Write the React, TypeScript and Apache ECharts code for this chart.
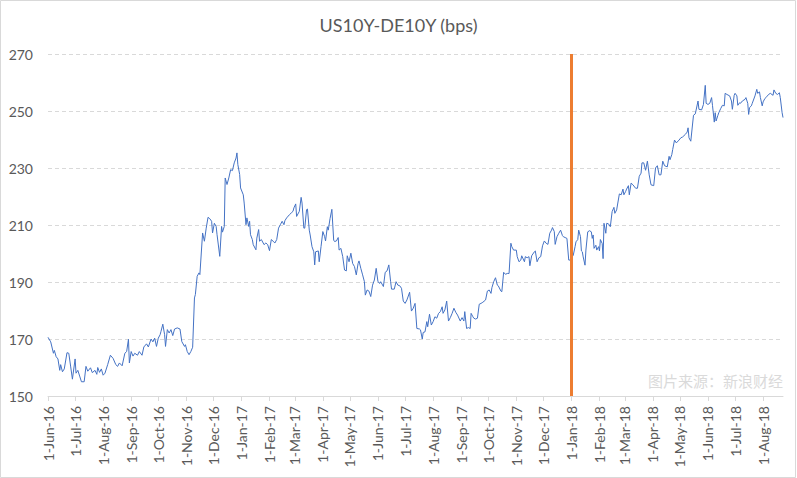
import React, { useEffect, useRef } from "react";
import * as echarts from "echarts";

const TITLE = "US10Y-DE10Y (bps)";
const SOURCE_NOTE = "图片来源：新浪财经";
const AXIS_START = "2016-06-01";
const AXIS_END = "2018-08-23";
const EVENT_DATE = "2018-01-01";
const Y_MIN = 150;
const Y_MAX = 270;
const Y_STEP = 20;
const MONTHS = ["Jan", "Feb", "Mar", "Apr", "May", "Jun", "Jul", "Aug", "Sep", "Oct", "Nov", "Dec"];

// US10Y - DE10Y spread (bps)
const spread: [string, number][] = [
  ["2016-06-01", 170.6], ["2016-06-04", 169.0], ["2016-06-07", 165.0], ["2016-06-08", 166.0],
  ["2016-06-10", 163.8], ["2016-06-12", 163.0], ["2016-06-14", 159.0], ["2016-06-15", 161.0],
  ["2016-06-17", 158.5], ["2016-06-19", 159.5], ["2016-06-22", 165.2], ["2016-06-24", 165.0],
  ["2016-06-26", 160.5], ["2016-06-28", 155.9], ["2016-07-01", 163.0], ["2016-07-02", 158.0],
  ["2016-07-04", 159.0], ["2016-07-06", 157.0], ["2016-07-08", 155.0], ["2016-07-11", 155.0],
  ["2016-07-13", 160.4], ["2016-07-15", 158.7], ["2016-07-18", 159.9], ["2016-07-20", 158.2],
  ["2016-07-23", 159.0], ["2016-07-25", 157.6], ["2016-07-26", 160.0], ["2016-07-28", 158.3],
  ["2016-07-30", 159.5], ["2016-08-01", 157.3], ["2016-08-03", 158.0], ["2016-08-06", 161.0],
  ["2016-08-09", 164.3], ["2016-08-12", 163.2], ["2016-08-15", 161.0], ["2016-08-17", 160.4],
  ["2016-08-19", 161.6], ["2016-08-22", 160.6], ["2016-08-25", 165.0], ["2016-08-27", 165.6],
  ["2016-08-29", 169.9], ["2016-08-30", 161.6], ["2016-09-01", 165.6], ["2016-09-03", 164.0],
  ["2016-09-05", 165.0], ["2016-09-08", 164.3], ["2016-09-10", 165.6], ["2016-09-13", 164.3],
  ["2016-09-15", 167.2], ["2016-09-18", 168.3], ["2016-09-20", 167.2], ["2016-09-23", 170.0],
  ["2016-09-25", 169.0], ["2016-09-27", 170.3], ["2016-09-29", 167.4], ["2016-10-01", 170.3],
  ["2016-10-03", 171.5], ["2016-10-04", 172.7], ["2016-10-06", 175.2], ["2016-10-08", 171.5],
  ["2016-10-09", 167.4], ["2016-10-11", 173.3], ["2016-10-13", 172.1], ["2016-10-15", 173.3],
  ["2016-10-17", 171.2], ["2016-10-19", 173.5], ["2016-10-22", 173.9], ["2016-10-25", 173.5],
  ["2016-10-27", 169.1], ["2016-10-30", 167.4], ["2016-10-31", 168.0], ["2016-11-02", 165.6],
  ["2016-11-04", 164.5], ["2016-11-06", 165.6], ["2016-11-08", 167.1], ["2016-11-10", 184.4],
  ["2016-11-11", 185.6], ["2016-11-13", 192.0], ["2016-11-15", 193.2], ["2016-11-16", 192.6],
  ["2016-11-19", 207.2], ["2016-11-21", 204.3], ["2016-11-23", 208.9], ["2016-11-25", 212.7],
  ["2016-11-27", 212.2], ["2016-11-29", 211.3], ["2016-11-30", 207.2], ["2016-12-02", 210.6],
  ["2016-12-04", 209.5], ["2016-12-05", 206.6], ["2016-12-08", 199.0], ["2016-12-10", 209.5],
  ["2016-12-11", 207.5], ["2016-12-13", 209.5], ["2016-12-14", 226.5], ["2016-12-16", 224.2],
  ["2016-12-18", 226.5], ["2016-12-20", 229.4], ["2016-12-22", 229.1], ["2016-12-24", 231.8],
  ["2016-12-26", 233.5], ["2016-12-27", 235.3], ["2016-12-28", 231.2], ["2016-12-30", 227.7],
  ["2016-12-31", 223.0], ["2017-01-03", 220.6], ["2017-01-04", 217.7], ["2017-01-06", 210.1],
  ["2017-01-07", 212.5], ["2017-01-09", 209.5], ["2017-01-10", 211.3], ["2017-01-11", 206.6],
  ["2017-01-13", 204.9], ["2017-01-14", 203.1], ["2017-01-17", 201.3], ["2017-01-18", 205.4],
  ["2017-01-20", 208.4], ["2017-01-21", 204.3], ["2017-01-23", 204.9], ["2017-01-25", 203.7],
  ["2017-01-26", 203.1], ["2017-01-28", 203.7], ["2017-01-30", 203.1], ["2017-02-01", 201.0],
  ["2017-02-03", 204.9], ["2017-02-05", 204.3], ["2017-02-07", 203.7], ["2017-02-09", 204.9],
  ["2017-02-11", 208.9], ["2017-02-13", 210.1], ["2017-02-15", 211.3], ["2017-02-17", 210.1],
  ["2017-02-18", 211.5], ["2017-02-20", 212.5], ["2017-02-23", 213.6], ["2017-02-25", 214.2],
  ["2017-02-27", 214.8], ["2017-02-28", 216.0], ["2017-03-02", 217.4], ["2017-03-03", 213.0],
  ["2017-03-06", 214.8], ["2017-03-08", 219.7], ["2017-03-09", 217.7], ["2017-03-11", 208.9],
  ["2017-03-12", 208.9], ["2017-03-14", 215.4], ["2017-03-15", 215.6], ["2017-03-17", 208.2],
  ["2017-03-18", 206.5], ["2017-03-20", 202.4], ["2017-03-22", 200.6], ["2017-03-23", 196.0],
  ["2017-03-24", 200.6], ["2017-03-27", 200.9], ["2017-03-28", 197.1], ["2017-03-30", 202.4],
  ["2017-04-01", 207.7], ["2017-04-03", 205.9], ["2017-04-04", 204.4], ["2017-04-06", 209.4],
  ["2017-04-07", 208.2], ["2017-04-09", 212.3], ["2017-04-11", 215.5], ["2017-04-13", 204.7],
  ["2017-04-14", 204.2], ["2017-04-16", 204.4], ["2017-04-18", 205.6], ["2017-04-19", 201.2],
  ["2017-04-21", 201.8], ["2017-04-23", 198.9], ["2017-04-25", 194.2], ["2017-04-27", 193.9],
  ["2017-04-28", 199.2], ["2017-04-30", 197.1], ["2017-05-02", 200.1], ["2017-05-04", 196.5],
  ["2017-05-06", 195.4], ["2017-05-08", 192.5], ["2017-05-10", 196.5], ["2017-05-11", 197.4],
  ["2017-05-13", 194.8], ["2017-05-15", 192.5], ["2017-05-17", 190.1], ["2017-05-18", 185.4],
  ["2017-05-20", 187.2], ["2017-05-22", 186.8], ["2017-05-24", 184.9], ["2017-05-26", 188.9],
  ["2017-05-28", 190.7], ["2017-05-30", 194.8], ["2017-06-01", 190.1], ["2017-06-03", 189.5],
  ["2017-06-04", 190.1], ["2017-06-07", 188.4], ["2017-06-09", 193.4], ["2017-06-11", 193.9],
  ["2017-06-13", 196.0], ["2017-06-15", 190.1], ["2017-06-16", 187.5], ["2017-06-19", 187.5],
  ["2017-06-21", 190.1], ["2017-06-23", 188.9], ["2017-06-25", 188.7], ["2017-06-27", 187.8],
  ["2017-06-29", 183.3], ["2017-07-01", 182.5], ["2017-07-03", 183.7], ["2017-07-06", 186.4],
  ["2017-07-08", 179.8], ["2017-07-10", 180.8], ["2017-07-12", 182.5], ["2017-07-14", 173.7],
  ["2017-07-17", 173.5], ["2017-07-18", 173.2], ["2017-07-20", 170.0], ["2017-07-21", 172.3],
  ["2017-07-23", 172.5], ["2017-07-25", 176.1], ["2017-07-26", 174.3], ["2017-07-28", 178.7],
  ["2017-07-30", 174.9], ["2017-08-01", 176.1], ["2017-08-03", 177.8], ["2017-08-05", 177.3],
  ["2017-08-07", 179.0], ["2017-08-09", 179.6], ["2017-08-11", 181.3], ["2017-08-12", 179.0],
  ["2017-08-14", 180.2], ["2017-08-16", 183.3], ["2017-08-18", 176.3], ["2017-08-20", 177.5],
  ["2017-08-22", 179.0], ["2017-08-24", 180.8], ["2017-08-26", 179.4], ["2017-08-28", 178.4],
  ["2017-08-31", 176.3], ["2017-09-02", 177.5], ["2017-09-04", 176.3], ["2017-09-05", 179.6],
  ["2017-09-07", 173.7], ["2017-09-09", 174.0], ["2017-09-11", 173.7], ["2017-09-12", 179.0],
  ["2017-09-14", 177.8], ["2017-09-15", 177.3], ["2017-09-17", 177.0], ["2017-09-19", 177.3],
  ["2017-09-21", 182.2], ["2017-09-23", 182.5], ["2017-09-25", 182.9], ["2017-09-28", 183.7],
  ["2017-09-30", 186.8], ["2017-10-02", 187.2], ["2017-10-04", 186.0], ["2017-10-05", 188.0],
  ["2017-10-07", 190.1], ["2017-10-09", 191.5], ["2017-10-11", 188.9], ["2017-10-12", 188.7],
  ["2017-10-15", 186.8], ["2017-10-16", 186.6], ["2017-10-18", 193.4], ["2017-10-20", 192.7],
  ["2017-10-22", 193.0], ["2017-10-24", 193.0], ["2017-10-26", 203.6], ["2017-10-27", 202.4],
  ["2017-10-29", 201.2], ["2017-11-01", 201.2], ["2017-11-02", 198.9], ["2017-11-04", 197.1],
  ["2017-11-06", 197.7], ["2017-11-07", 199.2], ["2017-11-10", 197.1], ["2017-11-11", 198.9],
  ["2017-11-13", 198.5], ["2017-11-15", 198.9], ["2017-11-16", 195.7], ["2017-11-18", 199.2],
  ["2017-11-21", 200.6], ["2017-11-22", 200.9], ["2017-11-24", 197.1], ["2017-11-26", 198.5],
  ["2017-11-28", 198.9], ["2017-11-30", 202.7], ["2017-12-02", 204.4], ["2017-12-04", 203.6],
  ["2017-12-06", 203.2], ["2017-12-08", 207.1], ["2017-12-10", 208.2], ["2017-12-11", 209.1],
  ["2017-12-13", 207.7], ["2017-12-14", 203.2], ["2017-12-16", 205.9], ["2017-12-18", 207.1],
  ["2017-12-20", 208.2], ["2017-12-22", 206.3], ["2017-12-23", 205.9], ["2017-12-25", 205.6],
  ["2017-12-27", 205.3], ["2017-12-29", 197.7], ["2017-12-31", 197.7], ["2018-01-03", 199.4],
  ["2018-01-05", 202.4], ["2018-01-06", 204.1], ["2018-01-08", 204.9], ["2018-01-09", 208.2],
  ["2018-01-11", 205.9], ["2018-01-12", 200.9], ["2018-01-13", 200.6], ["2018-01-14", 198.8],
  ["2018-01-16", 195.9], ["2018-01-17", 201.2], ["2018-01-19", 207.6], ["2018-01-21", 208.0],
  ["2018-01-23", 207.6], ["2018-01-24", 205.3], ["2018-01-25", 206.5], ["2018-01-26", 201.8],
  ["2018-01-28", 202.9], ["2018-01-29", 201.2], ["2018-01-31", 202.4], ["2018-02-01", 200.9],
  ["2018-02-02", 204.9], ["2018-02-04", 203.5], ["2018-02-05", 198.2], ["2018-02-06", 210.6],
  ["2018-02-08", 207.1], ["2018-02-09", 210.6], ["2018-02-11", 210.4], ["2018-02-13", 209.4],
  ["2018-02-15", 214.7], ["2018-02-17", 216.2], ["2018-02-18", 214.1], ["2018-02-20", 215.3],
  ["2018-02-23", 220.9], ["2018-02-25", 220.6], ["2018-02-27", 222.6], ["2018-02-28", 220.6],
  ["2018-03-02", 221.8], ["2018-03-03", 222.6], ["2018-03-05", 223.8], ["2018-03-06", 220.6],
  ["2018-03-08", 224.7], ["2018-03-10", 224.1], ["2018-03-13", 222.9], ["2018-03-15", 222.9],
  ["2018-03-17", 227.1], ["2018-03-19", 228.2], ["2018-03-20", 231.8], ["2018-03-22", 231.8],
  ["2018-03-24", 229.2], ["2018-03-26", 232.4], ["2018-03-28", 227.6], ["2018-03-30", 224.1],
  ["2018-04-02", 223.8], ["2018-04-04", 230.0], ["2018-04-06", 230.8], ["2018-04-08", 227.6],
  ["2018-04-10", 227.6], ["2018-04-12", 232.4], ["2018-04-14", 230.8], ["2018-04-17", 230.4],
  ["2018-04-19", 234.1], ["2018-04-20", 232.9], ["2018-04-22", 234.7], ["2018-04-23", 236.5],
  ["2018-04-25", 239.8], ["2018-04-27", 238.8], ["2018-04-30", 239.8], ["2018-05-02", 240.6],
  ["2018-05-04", 240.9], ["2018-05-07", 241.8], ["2018-05-09", 242.6], ["2018-05-10", 244.1],
  ["2018-05-11", 240.6], ["2018-05-13", 239.4], ["2018-05-16", 248.5], ["2018-05-18", 249.0],
  ["2018-05-21", 253.5], ["2018-05-22", 250.6], ["2018-05-25", 250.4], ["2018-05-27", 252.3],
  ["2018-05-29", 259.0], ["2018-05-30", 252.7], ["2018-06-01", 252.3], ["2018-06-03", 252.7],
  ["2018-06-05", 254.7], ["2018-06-06", 252.0], ["2018-06-08", 246.1], ["2018-06-09", 249.4],
  ["2018-06-10", 246.5], ["2018-06-12", 248.5], ["2018-06-13", 249.4], ["2018-06-15", 250.8],
  ["2018-06-17", 252.0], ["2018-06-19", 251.8], ["2018-06-20", 256.2], ["2018-06-22", 255.8],
  ["2018-06-25", 255.3], ["2018-06-27", 253.5], ["2018-06-28", 250.6], ["2018-06-30", 255.5],
  ["2018-07-01", 256.2], ["2018-07-03", 255.3], ["2018-07-04", 252.0], ["2018-07-06", 252.9],
  ["2018-07-07", 252.7], ["2018-07-09", 253.5], ["2018-07-12", 254.1], ["2018-07-13", 254.7],
  ["2018-07-15", 252.7], ["2018-07-16", 248.8], ["2018-07-17", 251.2], ["2018-07-19", 251.8],
  ["2018-07-20", 252.7], ["2018-07-23", 255.3], ["2018-07-25", 257.6], ["2018-07-26", 256.2],
  ["2018-07-28", 256.7], ["2018-07-29", 254.7], ["2018-07-31", 251.8], ["2018-08-01", 253.2],
  ["2018-08-03", 254.4], ["2018-08-05", 255.0], ["2018-08-07", 255.8], ["2018-08-09", 256.2],
  ["2018-08-12", 255.5], ["2018-08-13", 257.4], ["2018-08-15", 256.2], ["2018-08-17", 255.8],
  ["2018-08-19", 256.4], ["2018-08-20", 254.7], ["2018-08-22", 249.4], ["2018-08-23", 247.7],
];

function buildCalendar(start: string, end: string): string[] {
  const out: string[] = [];
  const d = new Date(start + "T00:00:00Z");
  const e = new Date(end + "T00:00:00Z");
  while (d.getTime() <= e.getTime()) {
    out.push(d.toISOString().slice(0, 10));
    d.setUTCDate(d.getUTCDate() + 1);
  }
  return out;
}

function formatDay(s: string): string {
  const [y, m, d] = s.split("-");
  return `${Number(d)}-${MONTHS[Number(m) - 1]}-${y.slice(2)}`;
}

const isMonthStart = (_i: number, v: string) => typeof v === "string" && v.endsWith("-01");

export default function App() {
  const ref = useRef<HTMLDivElement>(null);

  useEffect(() => {
    document.body.style.margin = "0";
    if (!ref.current) return;
    const chart = echarts.init(ref.current, undefined, { renderer: "svg" });

    const days = buildCalendar(AXIS_START, AXIS_END);
    const lookup = new Map<string, number>(spread);
    const seriesData = days.map((d) => (lookup.has(d) ? (lookup.get(d) as number) : null));

    const font = "Lato, 'Liberation Sans', Arial, sans-serif";
    const textColor = "#595959";

    chart.setOption({
      animation: false,
      backgroundColor: "#ffffff",
      title: {
        text: TITLE,
        left: "center",
        top: 11,
        textStyle: { color: textColor, fontSize: 18, fontWeight: "normal", fontFamily: font },
      },
      grid: { left: 48, right: 14, top: 54, bottom: 82, containLabel: false },
      xAxis: {
        type: "category",
        data: days,
        boundaryGap: false,
        axisLine: { show: true, lineStyle: { color: "#D9D9D9", width: 1 } },
        axisTick: { show: true, interval: isMonthStart, length: 5, lineStyle: { color: "#D9D9D9" } },
        axisLabel: {
          interval: isMonthStart,
          rotate: 90,
          margin: 10,
          color: textColor,
          fontSize: 14,
          fontFamily: font,
          formatter: (v: string) => formatDay(v),
        },
        splitLine: { show: false },
      },
      yAxis: {
        type: "value",
        min: Y_MIN,
        max: Y_MAX,
        interval: Y_STEP,
        axisLine: { show: false },
        axisTick: { show: false },
        axisLabel: { color: textColor, fontSize: 14, fontFamily: font, margin: 15 },
        splitLine: { show: true, lineStyle: { color: "#D9D9D9", type: [4, 3], width: 1 } },
      },
      series: [
        {
          name: TITLE,
          type: "line",
          data: seriesData,
          connectNulls: true,
          showSymbol: false,
          symbol: "none",
          lineStyle: { color: "#4472C4", width: 1 },
          itemStyle: { color: "#4472C4" },
          markLine: {
            silent: true,
            symbol: ["none", "none"],
            label: { show: false },
            lineStyle: { color: "#ED7D31", width: 3, type: "solid" },
            data: [{ xAxis: EVENT_DATE }],
          },
          z: 2,
        },
      ],
      graphic: [
        {
          type: "rect",
          shape: { x: 0.5, y: 0.5, width: 795, height: 477 },
          style: { fill: "none", stroke: "#D9D9D9", lineWidth: 1 },
          silent: true,
          z: -1,
        },
        {
          type: "text",
          right: 14,
          top: 373,
          style: {
            text: SOURCE_NOTE,
            fill: "#DADADA",
            font: "15px 'Noto Sans CJK SC', sans-serif",
          },
          silent: true,
        },
      ],
    });

    return () => chart.dispose();
  }, []);

  return <div ref={ref} style={{ width: 797, height: 478 }} />;
}
